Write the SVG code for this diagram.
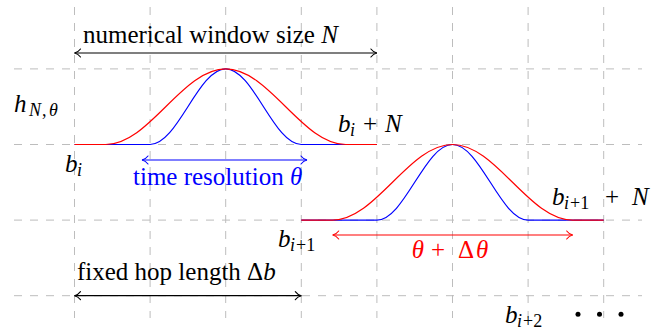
<svg xmlns="http://www.w3.org/2000/svg" width="668" height="335" viewBox="0 0 668 335">
<defs>
<marker id="ak" markerUnits="userSpaceOnUse" viewBox="-8 -6 10 12" refX="0" refY="0" markerWidth="10" markerHeight="12" orient="auto-start-reverse" overflow="visible"><path d="M-6,-4 C-4.3,-1.7 -1.6,-0.3 0,0 C-1.6,0.3 -4.3,1.7 -6,4" fill="none" stroke="#000" stroke-width="1.1" stroke-linecap="round"/></marker>
<marker id="ab" markerUnits="userSpaceOnUse" viewBox="-8 -6 10 12" refX="0" refY="0" markerWidth="10" markerHeight="12" orient="auto-start-reverse" overflow="visible"><path d="M-6,-4 C-4.3,-1.7 -1.6,-0.3 0,0 C-1.6,0.3 -4.3,1.7 -6,4" fill="none" stroke="#0000ff" stroke-width="1.1" stroke-linecap="round"/></marker>
<marker id="ar" markerUnits="userSpaceOnUse" viewBox="-8 -6 10 12" refX="0" refY="0" markerWidth="10" markerHeight="12" orient="auto-start-reverse" overflow="visible"><path d="M-6,-4 C-4.3,-1.7 -1.6,-0.3 0,0 C-1.6,0.3 -4.3,1.7 -6,4" fill="none" stroke="#ff0000" stroke-width="1.1" stroke-linecap="round"/></marker>
</defs>
<g id="grid" stroke="#bdbdbd" stroke-width="1" stroke-dasharray="8 8" fill="none">
<path d="M14,68.9H642M14,144.5H642M14,220.1H642M14,295.7H642"/>
<path d="M74.5,7V318M150.1,7V318M225.7,7V318M301.3,7V318M376.9,7V318M452.5,7V318M528.1,7V318M603.7,7V318"/>
</g>
<g id="window1" fill="none" stroke-width="1.2">
<path stroke="#0000ff" d="M74.5,144.5H150.1C177.54,144.5 198.26,68.9 225.7,68.9C253.14,68.9 273.86,144.5 301.3,144.5H376.9"/>
<path stroke="#ff0000" d="M74.5,144.5H105.7C149.26,144.5 182.14,68.9 225.7,68.9C269.26,68.9 302.14,144.5 345.7,144.5H376.9"/>
</g>
<g id="window2" fill="none" stroke-width="1.2">
<path stroke="#0000ff" d="M301.3,220.1H376.9C404.34,220.1 425.06,144.5 452.5,144.5C479.94,144.5 500.66,220.1 528.1,220.1H603.7"/>
<path stroke="#ff0000" d="M301.3,220.1H332.5C376.06,220.1 408.94,144.5 452.5,144.5C496.06,144.5 528.94,220.1 572.5,220.1H603.7"/>
</g>
<g id="connectors" stroke-width="1.2">
<line x1="74.5" y1="53" x2="376.9" y2="53" stroke="#000" marker-start="url(#ak)" marker-end="url(#ak)"/>
<line x1="142" y1="160" x2="307" y2="160" stroke="#0000ff" marker-start="url(#ab)" marker-end="url(#ab)"/>
<line x1="332.7" y1="235" x2="572.7" y2="235" stroke="#ff0000" marker-start="url(#ar)" marker-end="url(#ar)"/>
<line x1="74.5" y1="295.7" x2="301.3" y2="295.7" stroke="#000" marker-start="url(#ak)" marker-end="url(#ak)"/>
</g>
<text id="label-window-size" font-family="Liberation Serif" font-size="25" x="83" y="43">numerical window size <tspan font-style="italic">N</tspan></text>
<text id="label-h" font-family="Liberation Serif" font-size="25"><tspan font-style="italic" x="14" y="112">h</tspan><tspan font-style="italic" font-size="18" x="29" y="116">N</tspan><tspan font-size="18" x="42" y="116">,</tspan><tspan font-style="italic" font-size="18" x="49" y="116">θ</tspan></text>
<text id="label-bi" font-family="Liberation Serif" font-size="25"><tspan font-style="italic" x="65" y="171.7">b</tspan><tspan font-style="italic" font-size="18" x="77" y="175.5">i</tspan></text>
<text id="label-biN" font-family="Liberation Serif" font-size="25"><tspan font-style="italic" x="338" y="131.7">b</tspan><tspan font-style="italic" font-size="18" x="350" y="135.5">i</tspan><tspan x="363" y="131.7">+</tspan><tspan font-style="italic" x="385" y="131.7">N</tspan></text>
<text id="label-theta" font-family="Liberation Serif" font-size="25" fill="#0000ff" x="133" y="185">time resolution <tspan font-style="italic">θ</tspan></text>
<text id="label-bi1" font-family="Liberation Serif" font-size="25"><tspan font-style="italic" x="278" y="246.7">b</tspan><tspan font-style="italic" font-size="18" x="290" y="250.5">i</tspan><tspan font-size="18" x="296" y="250.5">+1</tspan></text>
<text id="label-bi1N" font-family="Liberation Serif" font-size="25"><tspan font-style="italic" x="552" y="205">b</tspan><tspan font-style="italic" font-size="18" x="564" y="209">i</tspan><tspan font-size="18" x="570" y="209">+1</tspan><tspan x="605" y="205">+</tspan><tspan font-style="italic" x="632" y="205">N</tspan></text>
<text id="label-dtheta" font-family="Liberation Serif" font-size="25" fill="#ff0000"><tspan font-style="italic" x="411.7" y="258.3">θ</tspan><tspan x="431" y="258.3">+</tspan><tspan x="458" y="258.3">Δ</tspan><tspan font-style="italic" x="476" y="258.3">θ</tspan></text>
<text id="label-hop" font-family="Liberation Serif" font-size="25" x="77" y="280">fixed hop length Δ<tspan font-style="italic">b</tspan></text>
<text id="label-bi2" font-family="Liberation Serif" font-size="25"><tspan font-style="italic" x="505" y="323">b</tspan><tspan font-style="italic" font-size="18" x="517" y="327">i</tspan><tspan font-size="18" x="523" y="327">+2</tspan></text>
<g id="dots"><circle cx="578" cy="314.3" r="2.5"/><circle cx="599.5" cy="314.3" r="2.5"/><circle cx="621" cy="314.3" r="2.5"/></g>
</svg>
